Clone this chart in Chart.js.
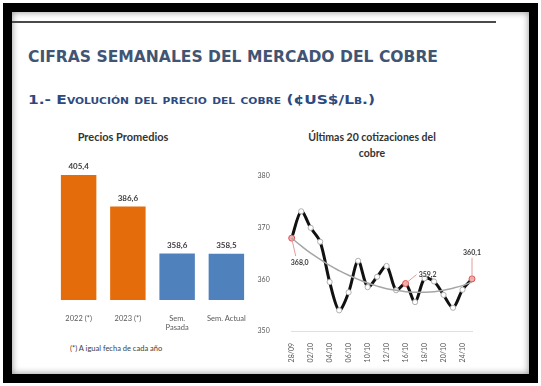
<!DOCTYPE html>
<html>
<head>
<meta charset="utf-8">
<script src="https://cdn.jsdelivr.net/npm/chart.js@4.4.0/dist/chart.umd.min.js"></script>
<style>
html, body { margin: 0; padding: 0; background: #fff; }
body { width: 541px; height: 386px; position: relative; overflow: hidden; font-family: Lato, "Open Sans", sans-serif; }
#frame { position: absolute; left: 3px; top: 3px; width: 517px; height: 362px; border: 9px solid #000; box-shadow: inset 0 0 7px rgba(0,0,0,.45); background: #fff; }
#rule { position: absolute; left: 12px; top: 21px; width: 484px; height: 2px; background: #4a4a4a; }
.fit { position: absolute; white-space: nowrap; transform-origin: 0 50%; font-family: "DejaVu Sans", sans-serif; font-weight: bold; }
#title { left: 28px; top: 47px; font-size: 16px; color: #415573; }
#subtitle { left: 28px; top: 92px; font-size: 13px; color: #2c4a80; font-variant: small-caps; }
.ctitle { position: absolute; text-align: center; font-weight: bold; color: #333; line-height: 16px; }
#barTitle { left: 50px; width: 146px; top: 129px; font-size: 11px; }
#lineTitle { left: 296px; width: 152px; top: 129px; font-size: 10.5px; }
#note { position: absolute; left: 70px; top: 344px; font-size: 7.5px; color: #404040; -webkit-font-smoothing: antialiased; }
canvas { position: absolute; }
#barCanvas { left: 40px; top: 140px; }
#lineCanvas { left: 250px; top: 158px; }
</style>
</head>
<body>
<div id="frame"></div>
<div id="rule"></div>
<div id="title" class="fit" data-w="410">CIFRAS SEMANALES DEL MERCADO DEL COBRE</div>
<div id="subtitle" class="fit" data-w="347">1.- Evolución del precio del cobre (¢US$/Lb.)</div>
<div id="barTitle" class="ctitle">Precios Promedios</div>
<div id="lineTitle" class="ctitle">Últimas 20 cotizaciones del<br>cobre</div>
<div id="note">(*) A igual fecha de cada año</div>
<canvas id="barCanvas" width="221" height="190"></canvas>
<canvas id="lineCanvas" width="240" height="212"></canvas>
<script>
// Precios promedios (¢US$/Lb.)
var barLabels = ['2022 (*)', '2023 (*)', ['Sem.', 'Pasada'], 'Sem. Actual'];
var barValues = [405.4, 386.6, 358.6, 358.5];
var barColors = ['#e46c0a', '#e46c0a', '#4f81bd', '#4f81bd'];

// Ultimas 20 cotizaciones
var dates = ['28/09', '29/09', '02/10', '03/10', '04/10', '05/10', '06/10', '09/10', '10/10', '11/10',
             '12/10', '13/10', '16/10', '17/10', '18/10', '19/10', '20/10', '23/10', '24/10', '25/10'];
var prices = [368.0, 373.2, 370.0, 367.3, 359.5, 354.0, 357.5, 363.6, 358.5, 360.5,
              362.6, 357.9, 359.2, 355.6, 360.2, 359.6, 357.0, 354.5, 358.0, 360.1];
var trend = [368.0, 366.5, 365.1, 363.9, 362.7, 361.7, 360.8, 360.0, 359.3, 358.7,
             358.2, 357.9, 357.6, 357.5, 357.5, 357.6, 357.9, 358.3, 358.8, 359.5];
var markedIdx = [0, 12, 19];
var yTicks = [350, 360, 370, 380];

function fmt(v) { return v.toFixed(1).replace('.', ','); }

// squeeze the heading texts to the width they have in the picture
document.querySelectorAll('.fit').forEach(function (el) {
    var w = el.getBoundingClientRect().width;
    el.style.transform = 'scaleX(' + (parseFloat(el.dataset.w) / w) + ')';
});

var barValueLabels = {
    id: 'barValueLabels',
    afterDatasetsDraw: function (chart) {
        var ctx = chart.ctx;
        var meta = chart.getDatasetMeta(0);
        ctx.save();
        ctx.font = 'bold 8px Lato';
        ctx.fillStyle = '#404040';
        ctx.textAlign = 'center';
        ctx.textBaseline = 'bottom';
        meta.data.forEach(function (bar, i) {
            ctx.fillText(fmt(barValues[i]), bar.x, bar.y - 4);
        });
        ctx.restore();
    }
};

new Chart(document.getElementById('barCanvas'), {
    type: 'bar',
    data: {
        labels: barLabels,
        datasets: [{
            data: barValues,
            backgroundColor: barColors,
            barPercentage: 0.72,
            categoryPercentage: 1.0
        }]
    },
    options: {
        responsive: false,
        animation: false,
        layout: { padding: { left: 14, right: 10, top: 7, bottom: 0 } },
        plugins: { legend: { display: false }, title: { display: false }, tooltip: { enabled: false } },
        scales: {
            y: { display: false, min: 331, max: 422 },
            x: {
                grid: { display: false },
                border: { display: false },
                ticks: { color: '#595959', font: { size: 7.5, family: 'Lato' }, padding: 6, maxRotation: 0 },
                afterFit: function (scale) { scale.height = 30; }
            }
        }
    },
    plugins: [barValueLabels]
});

var pointNotes = {
    id: 'pointNotes',
    afterDatasetsDraw: function (chart, args, opts) {
        var ctx = chart.ctx;
        var meta = chart.getDatasetMeta(0);
        ctx.save();
        ctx.font = 'bold 7px Lato';
        ctx.fillStyle = '#404040';
        ctx.textAlign = 'center';
        ctx.textBaseline = 'middle';
        opts.notes.forEach(function (n) {
            var p = meta.data[n.index];
            ctx.strokeStyle = '#e89a9a';
            ctx.lineWidth = 1;
            ctx.beginPath();
            ctx.moveTo(p.x, p.y);
            ctx.lineTo(p.x + n.lx, p.y + n.ly);
            ctx.stroke();
            ctx.fillText(fmt(prices[n.index]), p.x + n.dx, p.y + n.dy);
        });
        ctx.restore();
    }
};

new Chart(document.getElementById('lineCanvas'), {
    type: 'line',
    data: {
        labels: dates,
        datasets: [{
            data: prices,
            borderColor: '#111',
            borderWidth: 3,
            tension: 0.3,
            pointRadius: function (c) { return markedIdx.indexOf(c.dataIndex) >= 0 ? 3 : 2.6; },
            pointBackgroundColor: function (c) { return markedIdx.indexOf(c.dataIndex) >= 0 ? '#f3b0b0' : '#fff'; },
            pointBorderColor: function (c) { return markedIdx.indexOf(c.dataIndex) >= 0 ? '#d9534f' : '#b0b0b0'; },
            pointBorderWidth: 1,
            order: 2
        }, {
            data: trend,
            borderColor: '#a6a6a6',
            borderWidth: 1.5,
            tension: 0.4,
            pointRadius: 0,
            order: 1
        }]
    },
    options: {
        responsive: false,
        animation: false,
        layout: { padding: { left: 0, right: 18, top: 6, bottom: 0 } },
        plugins: {
            legend: { display: false }, title: { display: false }, tooltip: { enabled: false },
            pointNotes: { notes: [
                { index: 0, dx: 8, dy: 25, lx: 4, ly: 18 },
                { index: 12, dx: 22, dy: -9, lx: 11, ly: -9 },
                { index: 19, dx: 0, dy: -26, lx: 0, ly: -21 }
            ] }
        },
        scales: {
            y: {
                min: 350, max: 380,
                afterBuildTicks: function (scale) { scale.ticks = yTicks.map(function (v) { return { value: v }; }); },
                grid: { display: false },
                border: { display: false },
                ticks: { color: '#595959', font: { size: 7, family: 'Lato' }, padding: 14 },
                afterFit: function (scale) { scale.width = 41.7; }
            },
            x: {
                grid: { display: false },
                border: { color: '#e0e0e0' },
                ticks: {
                    color: '#595959', font: { size: 7, family: 'Lato' },
                    autoSkip: false, minRotation: 90, maxRotation: 90, padding: 4,
                    callback: function (v, i) { return i % 2 === 0 ? dates[i] : ''; }
                },
                afterFit: function (scale) { scale.height = 39; }
            }
        }
    },
    plugins: [pointNotes]
});
</script>
</body>
</html>
